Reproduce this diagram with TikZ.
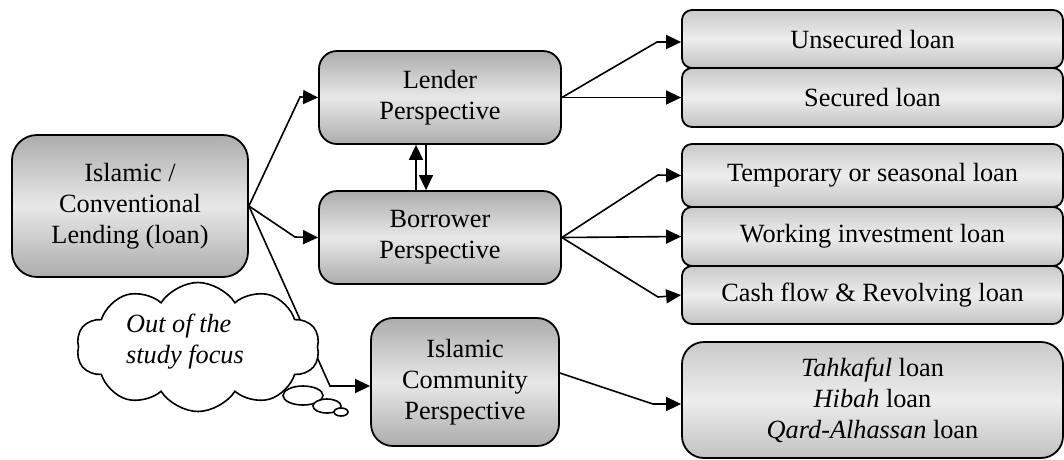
\documentclass[tikz,border=0pt]{standalone}
\usepackage{fontspec}
\setmainfont{Liberation Serif}
\usetikzlibrary{arrows.meta,shapes.symbols}
\begin{document}
\begin{tikzpicture}[x=1pt,y=-1pt,
  txt/.style={font=\fontsize{26.3}{31}\selectfont},
  box/.style={txt,draw=black,line width=1.8pt,align=center,inner sep=0pt},
  mainbox/.style={box,top color=gray!65,bottom color=gray!65,middle color=gray!18,rounded corners=22pt},
  leafbox/.style={box,top color=gray!42,bottom color=gray!48,middle color=gray!14,rounded corners=10pt,
    minimum width=381pt},
  arr/.style={line width=1.6pt,-{Triangle[length=15pt,width=14pt]}},
]
\useasboundingbox (0,0) rectangle (1064,459);

% bend points of the connectors
\coordinate (k1) at (300,97);
\coordinate (k2) at (295,237);
\coordinate (k3) at (330,386);
\coordinate (k4) at (657,42);
\coordinate (k5) at (658,175);
\coordinate (k6) at (658,297);
\coordinate (k7) at (653,404);

% boxes
\node[mainbox,minimum width=236pt,minimum height=142pt,rounded corners=25pt] (main) at (130,206)
  {Islamic /\\Conventional\\Lending (loan)};
\node[mainbox,minimum width=242pt,minimum height=93pt,rounded corners=18pt] (len) at (440,97.5)
  {Lender\\Perspective};
\node[mainbox,minimum width=242pt,minimum height=93pt,rounded corners=18pt] (bor) at (440,237.5)
  {Borrower\\Perspective};
\node[mainbox,minimum width=188pt,minimum height=128pt] (com) at (465,382)
  {Islamic\\Community\\Perspective};

\node[leafbox,minimum height=58pt] (uns) at (872.5,39) {Unsecured loan};
\node[leafbox,minimum height=59pt] (sec) at (872.5,97.5) {Secured loan};
\node[leafbox,minimum height=63pt] (tmp) at (872.5,175.5) {Temporary or seasonal loan};
\node[leafbox,minimum height=59pt] (wrk) at (872.5,236.5) {Working investment loan};
\node[leafbox,minimum height=58pt] (csh) at (872.5,295) {Cash flow \& Revolving loan};
\node[leafbox,minimum height=116pt,rounded corners=22pt] (tak) at (872.5,400)
  {\textit{Tahkaful} loan\\\textit{Hibah} loan\\\textit{Qard-Alhassan} loan};

% connectors
\draw[arr] (main.east) -- (k1) -- (len.west);
\draw[arr] (main.east) -- (k2) -- (bor.west);
\draw[arr] (main.east) -- (k3) -- ([yshift=-4pt]com.west);
\draw[arr] ([xshift=-24pt]bor.north) -- ([xshift=-24pt]len.south);
\draw[arr] ([xshift=-14pt]len.south) -- ([xshift=-14pt]bor.north);
\draw[arr] (len.east) -- (k4) -- ([yshift=-3pt]uns.west);
\draw[arr] (len.east) -- (sec.west);
\draw[arr] (bor.east) -- (k5) -- (tmp.west);
\draw[arr] (bor.east) -- (wrk.west);
\draw[arr] (bor.east) -- (k6) -- (csh.west);
\draw[arr] ([yshift=9pt]com.east) -- (k7) -- ([yshift=-4pt]tak.west);

% thought cloud
\node[cloud,draw=black,fill=white,line width=1.6pt,cloud puffs=10,cloud puff arc=115,
  cloud ignores aspect,minimum width=243pt,minimum height=129pt,inner sep=0pt] (cl) at (198,347) {};
\node[txt,anchor=west,align=left,inner sep=0pt] (note) at (126,342)
  {\textit{Out of the}\\\textit{study focus}};
\draw[line width=1.6pt,fill=white] (303,395.5) ellipse [x radius=20, y radius=9.5];
\draw[line width=1.6pt,fill=white] (327,406) ellipse [x radius=14, y radius=7];
\draw[line width=1.6pt,fill=white] (341,412) ellipse [x radius=7, y radius=4];
\end{tikzpicture}
\end{document}
